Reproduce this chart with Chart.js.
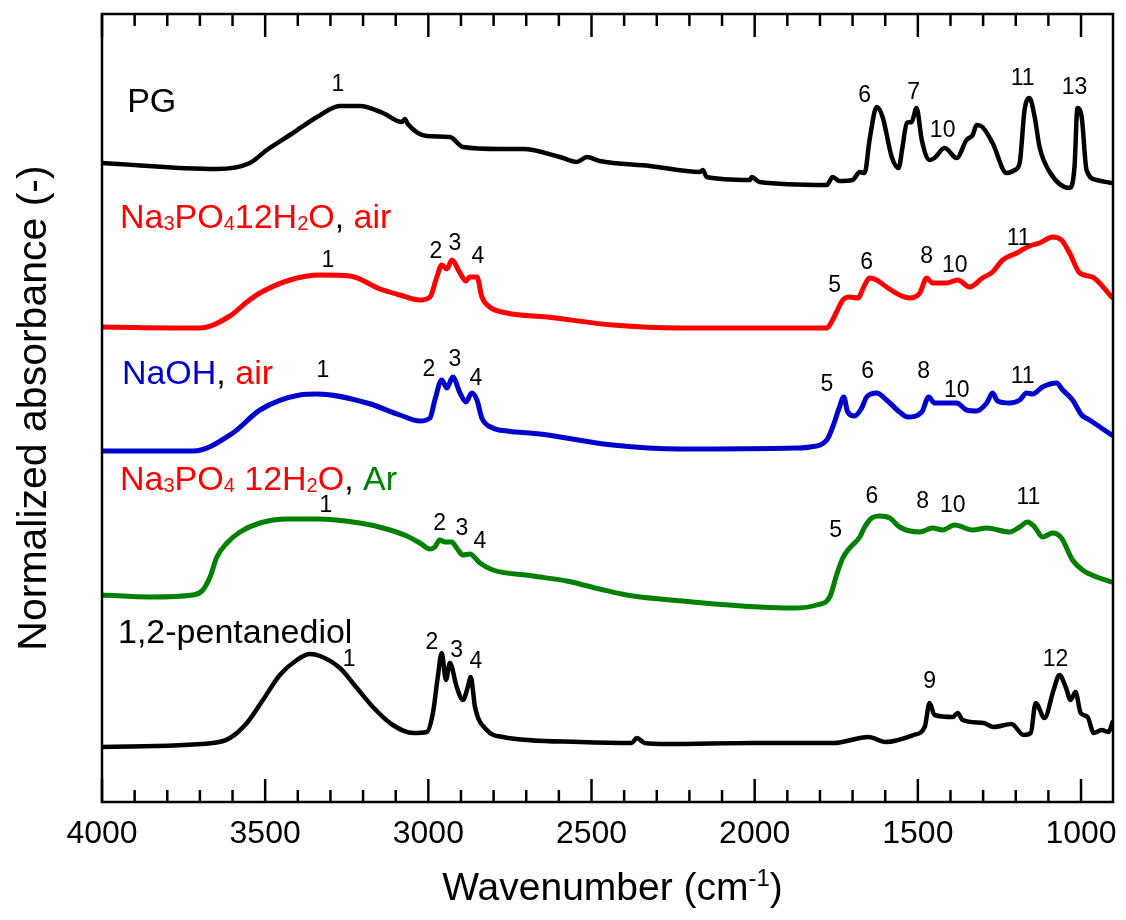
<!DOCTYPE html>
<html>
<head>
<meta charset="utf-8">
<script src="https://cdn.jsdelivr.net/npm/chart.js@4.4.1/dist/chart.umd.min.js"></script>
<style>
  html, body { margin: 0; padding: 0; background: #fff; }
  #wrap { width: 1126px; height: 920px; position: relative; }
</style>
</head>
<body>
<div id="wrap"><canvas id="chart"></canvas></div>
<script>
// FTIR spectra, stacked (offset already included in absorbance values)
const pgWave = [4000,3648,3547,3495,3415,3341,3271,3210,3139,3081,3072,3063,3005,2934,2894,2781,2710,2597,2545,2514,2475,2321,2168,2159,2147,2015,2009,1985,1779,1761,1740,1700,1678,1663,1648,1626,1608,1580,1559,1547,1534,1519,1504,1488,1464,1449,1418,1381,1351,1332,1320,1302,1271,1228,1203,1188,1173,1158,1142,1127,1096,1035,1020,1011,998,983,952,906];
const pgAbs  = [6.39,6.33,6.39,6.52,6.69,6.85,6.96,6.96,6.89,6.80,6.83,6.78,6.66,6.65,6.55,6.53,6.53,6.45,6.40,6.45,6.41,6.36,6.30,6.32,6.25,6.22,6.25,6.20,6.17,6.25,6.21,6.22,6.30,6.29,6.62,6.95,6.85,6.45,6.34,6.55,6.79,6.80,6.94,6.62,6.42,6.44,6.54,6.44,6.62,6.67,6.77,6.75,6.59,6.29,6.32,6.39,6.92,7.04,6.85,6.55,6.30,6.14,6.35,6.94,6.85,6.32,6.22,6.19];

const phosAirWave = [4000,3700,3608,3556,3516,3424,3332,3240,3148,3087,3026,2995,2974,2959,2943,2928,2903,2885,2873,2851,2836,2812,2759,2637,2435,2230,1871,1779,1770,1749,1730,1709,1684,1663,1648,1626,1596,1556,1525,1494,1473,1455,1412,1378,1341,1302,1271,1240,1197,1158,1127,1087,1060,1035,1004,965,906];
const phosAirAbs  = [4.75,4.74,4.86,5.00,5.09,5.22,5.27,5.26,5.13,5.07,5.02,5.05,5.25,5.37,5.33,5.42,5.29,5.21,5.25,5.25,5.05,4.95,4.89,4.85,4.77,4.74,4.74,4.74,4.77,4.90,5.02,5.05,5.04,5.17,5.24,5.22,5.15,5.07,5.04,5.09,5.24,5.19,5.19,5.22,5.15,5.24,5.30,5.42,5.49,5.56,5.59,5.65,5.62,5.49,5.29,5.25,5.05];

const naohWave = [4000,3721,3599,3516,3394,3341,3188,3087,3026,2995,2980,2959,2943,2925,2903,2885,2867,2851,2836,2802,2759,2658,2435,2230,1871,1831,1779,1761,1740,1727,1715,1694,1672,1657,1626,1596,1556,1531,1488,1467,1449,1381,1351,1320,1289,1271,1256,1219,1188,1167,1148,1118,1075,1056,1026,998,974,906];
const naohAbs  = [3.51,3.51,3.69,3.92,4.07,4.08,3.99,3.87,3.81,3.84,4.02,4.22,4.14,4.25,4.09,4.00,4.09,4.02,3.84,3.74,3.71,3.68,3.57,3.53,3.54,3.55,3.62,3.75,3.95,4.05,3.90,3.86,3.94,4.05,4.09,4.02,3.90,3.85,3.90,4.05,3.99,3.99,3.92,3.91,3.99,4.09,4.01,3.99,4.02,4.09,4.08,4.15,4.19,4.12,4.02,3.87,3.82,3.67];

const phosArWave = [4000,3853,3721,3691,3669,3648,3617,3577,3516,3433,3341,3210,3139,3066,3026,2995,2980,2965,2949,2928,2913,2894,2873,2842,2802,2680,2576,2475,2392,2190,1985,1883,1810,1770,1749,1730,1709,1678,1663,1641,1617,1586,1556,1494,1455,1424,1387,1332,1289,1219,1188,1164,1142,1118,1087,1060,1026,995,952,906];
const phosArAbs  = [2.07,2.05,2.07,2.12,2.25,2.45,2.59,2.70,2.79,2.83,2.83,2.79,2.74,2.66,2.59,2.53,2.55,2.62,2.60,2.60,2.54,2.47,2.48,2.39,2.32,2.26,2.21,2.13,2.07,2.00,1.95,1.94,1.97,2.05,2.27,2.44,2.54,2.65,2.75,2.84,2.86,2.84,2.75,2.70,2.74,2.72,2.77,2.72,2.74,2.70,2.75,2.80,2.75,2.65,2.69,2.64,2.42,2.32,2.25,2.20];

const pentWave = [4000,3660,3608,3556,3507,3455,3403,3363,3332,3271,3219,3170,3109,3047,3005,2986,2971,2959,2946,2934,2913,2894,2879,2870,2857,2821,2772,2536,2377,2361,2337,2269,2003,1758,1651,1599,1513,1479,1464,1449,1393,1378,1363,1298,1268,1213,1176,1154,1139,1112,1084,1066,1047,1032,1017,1001,980,961,937,916,903];
const pentAbs  = [0.55,0.59,0.64,0.79,1.02,1.27,1.42,1.48,1.46,1.34,1.14,0.95,0.77,0.69,0.70,0.89,1.25,1.49,1.22,1.39,1.15,1.02,1.15,1.25,0.95,0.72,0.65,0.60,0.59,0.64,0.59,0.58,0.59,0.59,0.65,0.60,0.67,0.75,0.99,0.87,0.85,0.89,0.82,0.79,0.75,0.78,0.67,0.69,0.99,0.84,1.12,1.27,1.15,1.02,1.10,0.89,0.85,0.69,0.72,0.70,0.80];

// peak numbers: [label, wavenumber, absorbance]
const pgPeaks = [['1',3277,7.11],['6',1663,7.00],['7',1513,7.03],['10',1424,6.65],['11',1179,7.17],['13',1020,7.08]];
const phosAirPeaks = [['1',3308,5.35],['2',2977,5.44],['3',2919,5.52],['4',2848,5.39],['5',1755,5.10],['6',1657,5.33],['8',1473,5.39],['10',1387,5.30],['11',1191,5.57]];
const naohPeaks = [['1',3323,4.25],['2',2998,4.26],['3',2919,4.36],['4',2854,4.17],['5',1779,4.11],['6',1654,4.24],['8',1482,4.24],['10',1381,4.05],['11',1179,4.19]];
const phosArPeaks = [['1',3314,2.90],['2',2965,2.72],['3',2897,2.67],['4',2842,2.54],['5',1752,2.65],['6',1641,2.99],['8',1485,2.94],['10',1393,2.90],['11',1161,2.98]];
const pentPeaks = [['1',3243,1.36],['2',2989,1.53],['3',2913,1.45],['4',2854,1.34],['9',1464,1.14],['12',1078,1.36]];

const xMajor = [4000,3500,3000,2500,2000,1500,1000];
const xTickLabels = ['4000','3500','3000','2500','2000','1500','1000'];

const RED = '#ff0000', BLUE = '#0000cc', GREEN = '#008000', BLACK = '#000000';

// sample names, with subscripts
const seriesNames = [
  { wave: 3923, abs: 6.90, runs: [{ t: 'PG', c: BLACK }] },
  { wave: 3945, abs: 5.74, runs: [{ t: 'Na', c: RED }, { t: '3', c: RED, sub: true }, { t: 'PO', c: RED }, { t: '4', c: RED, sub: true }, { t: '12H', c: RED }, { t: '2', c: RED, sub: true }, { t: 'O', c: RED }, { t: ', ', c: BLACK }, { t: 'air', c: RED }] },
  { wave: 3939, abs: 4.18, runs: [{ t: 'NaOH', c: BLUE }, { t: ', ', c: BLACK }, { t: 'air', c: RED }] },
  { wave: 3945, abs: 3.12, runs: [{ t: 'Na', c: RED }, { t: '3', c: RED, sub: true }, { t: 'PO', c: RED }, { t: '4', c: RED, sub: true }, { t: ' 12H', c: RED }, { t: '2', c: RED, sub: true }, { t: 'O', c: RED }, { t: ', ', c: BLACK }, { t: 'Ar', c: GREEN }] },
  { wave: 3951, abs: 1.59, runs: [{ t: '1,2-pentanediol', c: BLACK }] }
];

const FONT = 'Arial, "Liberation Sans", Helvetica, sans-serif';

const toPoints = (w, a) => w.map((x, i) => ({ x, y: a[i] }));

function drawRuns(ctx, runs, x, y, size) {
  let cx = x;
  runs.forEach(r => {
    const s = r.sub ? Math.round(size * 0.6) : size;
    ctx.font = `${s}px ${FONT}`;
    ctx.fillStyle = r.c;
    ctx.fillText(r.t, cx, y + (r.sub ? 2 : 0));
    cx += ctx.measureText(r.t).width;
  });
}

const decorations = {
  id: 'decorations',
  afterDatasetsDraw(chart) {
    const { ctx, chartArea: a } = chart;
    const xs = chart.scales.x, ys = chart.scales.y;
    ctx.save();

    // frame
    ctx.strokeStyle = '#000';
    ctx.lineWidth = 2.5;
    ctx.strokeRect(a.left, a.top, a.right - a.left, a.bottom - a.top);

    // inward ticks, top and bottom
    ctx.lineWidth = 2.5;
    for (let v = 4000; v >= 1000; v -= 100) {
      const px = xs.getPixelForValue(v);
      const len = v % 500 === 0 ? 23 : 12;
      ctx.beginPath();
      ctx.moveTo(px, a.bottom); ctx.lineTo(px, a.bottom - len);
      ctx.moveTo(px, a.top); ctx.lineTo(px, a.top + len);
      ctx.stroke();
    }

    // tick labels
    ctx.fillStyle = '#000';
    ctx.font = `32px ${FONT}`;
    ctx.textAlign = 'center';
    ctx.textBaseline = 'alphabetic';
    xMajor.forEach((v, i) => ctx.fillText(xTickLabels[i], xs.getPixelForValue(v), a.bottom + 41));

    // x title with superscript
    ctx.textAlign = 'left';
    ctx.font = `39px ${FONT}`;
    const t1 = 'Wavenumber (cm';
    const w1 = ctx.measureText(t1).width;
    ctx.font = `24px ${FONT}`;
    const w2 = ctx.measureText('-1').width;
    ctx.font = `39px ${FONT}`;
    const w3 = ctx.measureText(')').width;
    const tx = (a.left + a.right) / 2 - (w1 + w2 + w3) / 2 + 5;
    const ty = a.bottom + 98;
    ctx.fillText(t1, tx, ty);
    ctx.font = `24px ${FONT}`;
    ctx.fillText('-1', tx + w1, ty - 14);
    ctx.font = `39px ${FONT}`;
    ctx.fillText(')', tx + w1 + w2, ty);

    // y title
    ctx.save();
    ctx.translate(46, (a.top + a.bottom) / 2);
    ctx.rotate(-Math.PI / 2);
    ctx.textAlign = 'center';
    ctx.font = `41px ${FONT}`;
    ctx.fillText('Normalized absorbance (-)', 0, 0);
    ctx.restore();

    // peak numbers
    ctx.textAlign = 'center';
    ctx.font = `23px ${FONT}`;
    ctx.fillStyle = '#000';
    [pgPeaks, phosAirPeaks, naohPeaks, phosArPeaks, pentPeaks].forEach(list => {
      list.forEach(([t, w, y]) => ctx.fillText(t, xs.getPixelForValue(w), ys.getPixelForValue(y)));
    });

    // sample names
    ctx.textAlign = 'left';
    seriesNames.forEach(s => drawRuns(ctx, s.runs, xs.getPixelForValue(s.wave), ys.getPixelForValue(s.abs), 34));

    ctx.restore();
  }
};

const lineStyle = (color, width) => ({
  borderColor: color,
  backgroundColor: color,
  borderWidth: width,
  pointRadius: 0,
  fill: false,
  cubicInterpolationMode: 'monotone',
  borderJoinStyle: 'round',
  borderCapStyle: 'round'
});

new Chart(document.getElementById('chart'), {
  type: 'line',
  data: {
    datasets: [
      { label: 'PG', data: toPoints(pgWave, pgAbs), ...lineStyle(BLACK, 4.5) },
      { label: 'Na3PO4 12H2O, air', data: toPoints(phosAirWave, phosAirAbs), ...lineStyle(RED, 5) },
      { label: 'NaOH, air', data: toPoints(naohWave, naohAbs), ...lineStyle(BLUE, 5) },
      { label: 'Na3PO4 12H2O, Ar', data: toPoints(phosArWave, phosArAbs), ...lineStyle(GREEN, 5) },
      { label: '1,2-pentanediol', data: toPoints(pentWave, pentAbs), ...lineStyle(BLACK, 4.5) }
    ]
  },
  options: {
    responsive: true,
    maintainAspectRatio: false,
    animation: false,
    layout: { padding: { left: 102, right: 13, top: 14, bottom: 118 } },
    plugins: { legend: { display: false }, tooltip: { enabled: false } },
    scales: {
      x: { type: 'linear', reverse: true, min: 902, max: 4000, display: false },
      y: { type: 'linear', min: 0, max: 7.88, display: false }
    }
  },
  plugins: [decorations]
});
</script>
</body>
</html>
